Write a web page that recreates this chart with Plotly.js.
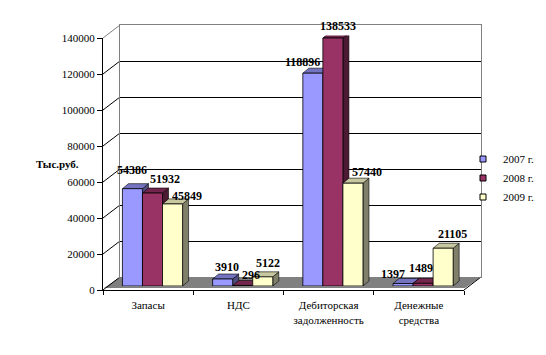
<!DOCTYPE html>
<html><head><meta charset="utf-8">
<script src="https://cdn.plot.ly/plotly-3.0.1.min.js"></script>
<style>html,body{margin:0;padding:0;background:#fff}#chart{width:546px;height:355px}</style>
</head><body><div id="chart"></div>
<script>
// ---- data ----
const categories = ['Запасы', 'НДС', 'Дебиторская<br>задолженность', 'Денежные<br>средства'];
const seriesNames = ['2007 г.', '2008 г.', '2009 г.'];
const values2007 = [54386, 3910, 118896, 1397];
const values2008 = [51932, 296, 138533, 1489];
const values2009 = [45849, 5122, 57440, 21105];
const yTicks = [0, 20000, 40000, 60000, 80000, 100000, 120000, 140000];
const yMax = 140000;

// ---- styles / geometry (pixels) ----
const W = 546, H = 355;
const FONT = 'Liberation Serif, Times New Roman, serif';
const frontBox = {x0: 103, x1: 464, yb: 290, yt: 38};
const backBox  = {x0: 120, x1: 481, yb: 277, yt: 25};
const barBox   = {x0: 107.4, x1: 468.2, yb: 286, yt: 35.4};
const depthPx  = {dx: 6, dy: 5};
const frontColors = ['#9999FF', '#993366', '#FFFFCC'];
const topColors   = ['#7373C0', '#73264D', '#C8C8A0'];
const sideColors  = ['#4D4D80', '#4D1A33', '#80806A'];
// label offsets (px) per series, per category, as placed in the reference
const labelDx = [[0, 4, -10, -10], [12, 8, 5, -2], [14, 5, 14, 9]];
const labelDy = [[19, 12, 11, 10], [14, 10, 12, 15], [8, 14, 11, 14]];
const fx = p => p / W, fy = p => 1 - p / H;

const allValues = [values2007, values2008, values2009];
const nCat = categories.length, nSer = allValues.length;
const bargap = 1 / 3;
const barW = (1 - bargap) / nSer;
const pxPerX = (barBox.x1 - barBox.x0) / nCat;
const pxPerY = (barBox.yb - barBox.yt) / yMax;
const dxU = depthPx.dx / pxPerX, dyU = depthPx.dy / pxPerY;

const traces = [];
// placeholders so that the axis frames are drawn
traces.push({type: 'scatter', mode: 'markers', x: [null], y: [null], xaxis: 'x', yaxis: 'y', showlegend: false, hoverinfo: 'skip'});
traces.push({type: 'scatter', mode: 'markers', x: [null], y: [null], xaxis: 'x2', yaxis: 'y2', showlegend: false, hoverinfo: 'skip'});
// side and top faces (drawn under front faces)
allValues.forEach((vals, k) => {
  const sx = [], sy = [], tx = [], ty = [];
  vals.forEach((v, c) => {
    const xl = c + (k - (nSer - 1) / 2) * barW - barW / 2;
    const xr = xl + barW;
    sx.push(xr, xr + dxU, xr + dxU, xr, xr, null);
    sy.push(0, dyU, v + dyU, v, 0, null);
    tx.push(xl, xr, xr + dxU, xl + dxU, xl, null);
    ty.push(v, v, v + dyU, v + dyU, v, null);
  });
  traces.push({type: 'scatter', mode: 'lines', x: sx, y: sy, fill: 'toself', fillcolor: sideColors[k],
    line: {color: '#000', width: 0.6}, xaxis: 'x3', yaxis: 'y3', hoverinfo: 'skip', showlegend: false});
  traces.push({type: 'scatter', mode: 'lines', x: tx, y: ty, fill: 'toself', fillcolor: topColors[k],
    line: {color: '#000', width: 0.6}, xaxis: 'x3', yaxis: 'y3', hoverinfo: 'skip', showlegend: false});
});
// legend entries
allValues.forEach((vals, k) => {
  traces.push({type: 'scatter', mode: 'markers', x: [null], y: [null], name: seriesNames[k],
    marker: {symbol: 'square', size: 6, color: frontColors[k], line: {color: '#000', width: 1}},
    xaxis: 'x3', yaxis: 'y3', hoverinfo: 'skip'});
});
// front faces
allValues.forEach((vals, k) => {
  traces.push({type: 'bar', x: categories.map((_, i) => i), y: vals, name: seriesNames[k],
    marker: {color: frontColors[k], line: {color: '#000', width: 0.8}},
    xaxis: 'x4', yaxis: 'y4', showlegend: false, hoverinfo: 'skip'});
});

// data labels
const annotations = [];
allValues.forEach((vals, k) => {
  vals.forEach((v, c) => {
    annotations.push({x: c + (k - (nSer - 1) / 2) * barW, y: v, xref: 'x4', yref: 'y4',
      text: '<b>' + v + '</b>', showarrow: false, xshift: labelDx[k][c], yshift: labelDy[k][c], yanchor: 'middle',
      font: {family: FONT, size: 12, color: '#000'}});
  });
});
annotations.push({x: fx(34), y: fy(164), xref: 'paper', yref: 'paper', text: '<b>Тыс.руб.</b>',
  showarrow: false, font: {family: FONT, size: 11, color: '#000'}});

// walls / floor decoration
const shapes = [];
shapes.push({type: 'path', xref: 'paper', yref: 'paper', layer: 'below',
  path: `M${fx(104)},${fy(288)} L${fx(465)},${fy(288)} L${fx(481)},${fy(277)} L${fx(120)},${fy(277)} Z`,
  fillcolor: '#808080', line: {width: 0}});
shapes.push({type: 'line', xref: 'paper', yref: 'paper', layer: 'below',
  x0: fx(frontBox.x1), y0: fy(frontBox.yb), x1: fx(backBox.x1), y1: fy(backBox.yb), line: {color: '#000', width: 1}});
yTicks.forEach((t, i) => {
  const yf = frontBox.yb - (frontBox.yb - frontBox.yt) * t / yMax;
  const yb = backBox.yb - (backBox.yb - backBox.yt) * t / yMax;
  shapes.push({type: 'line', xref: 'paper', yref: 'paper', layer: 'below',
    x0: fx(frontBox.x0), y0: fy(yf), x1: fx(backBox.x0), y1: fy(yb),
    line: {color: i === yTicks.length - 1 ? '#808080' : '#000', width: 1}});
});

const axisFont = {family: FONT, size: 11, color: '#000'};
const layout = {
  width: W, height: H, margin: {l: 0, r: 0, t: 0, b: 0}, autosize: false,
  paper_bgcolor: '#fff', plot_bgcolor: 'rgba(0,0,0,0)',
  font: {family: FONT, size: 11, color: '#000'},
  barmode: 'group', bargap: bargap, bargroupgap: 0,
  showlegend: true,
  legend: {x: fx(463), xanchor: 'left', y: fy(178), yanchor: 'middle', font: {family: FONT, size: 11, color: '#000'},
    bgcolor: 'rgba(0,0,0,0)', itemwidth: 30, traceorder: 'normal'},
  xaxis: {domain: [fx(frontBox.x0), fx(frontBox.x1)], anchor: 'y', range: [-0.5, nCat - 0.5],
    tickmode: 'array', tickvals: categories.map((_, i) => i), ticktext: categories, ticks: '',
    ticklabelstandoff: 5,
    minor: {tickmode: 'array', tickvals: categories.map((_, i) => i - 0.5).concat([nCat - 0.5]), ticks: 'outside', ticklen: 4, tickcolor: '#000', showgrid: false},
    showline: true, linecolor: '#000', linewidth: 1, showgrid: false, zeroline: false, tickfont: axisFont},
  yaxis: {domain: [fy(frontBox.yb), fy(frontBox.yt)], anchor: 'x', range: [0, yMax],
    tickmode: 'array', tickvals: yTicks, tickformat: 'd', ticks: 'outside', ticklen: 5, tickcolor: '#000',
    showline: true, linecolor: '#000', linewidth: 1, showgrid: false, zeroline: false, tickfont: axisFont},
  xaxis2: {domain: [fx(backBox.x0), fx(backBox.x1)], anchor: 'y2', range: [0, 1],
    showline: true, mirror: true, linecolor: '#808080', linewidth: 1, showgrid: false, zeroline: false,
    showticklabels: false, ticks: ''},
  yaxis2: {domain: [fy(backBox.yb), fy(backBox.yt)], anchor: 'x2', range: [0, yMax],
    tickmode: 'array', tickvals: yTicks, showgrid: true, gridcolor: '#000', gridwidth: 1,
    showline: true, mirror: true, linecolor: '#808080', linewidth: 1, zeroline: false,
    showticklabels: false, ticks: ''},
  xaxis3: {domain: [fx(barBox.x0), fx(barBox.x1)], anchor: 'y3', range: [-0.5, nCat - 0.5], visible: false},
  yaxis3: {domain: [fy(barBox.yb), fy(barBox.yt)], anchor: 'x3', range: [0, yMax], visible: false},
  xaxis4: {overlaying: 'x3', anchor: 'y4', range: [-0.5, nCat - 0.5], visible: false},
  yaxis4: {overlaying: 'y3', anchor: 'x4', range: [0, yMax], visible: false},
  shapes: shapes,
  annotations: annotations
};
Plotly.newPlot('chart', traces, layout, {staticPlot: true, displayModeBar: false});
</script>
</body></html>
